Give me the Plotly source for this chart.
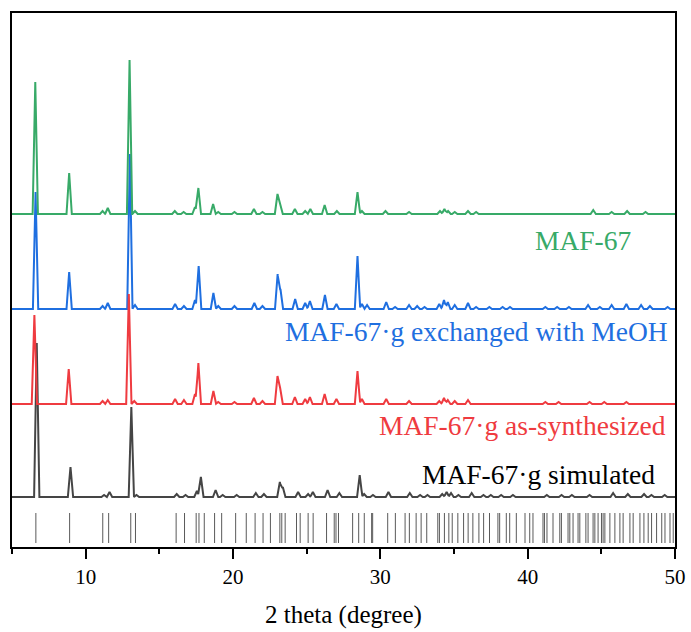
import plotly.graph_objects as go

# ---------------- data ----------------
# Peak positions (2 theta, degree) and heights (arbitrary units) per pattern
green_pos = [6.58, 8.88, 11.15, 11.5, 12.98, 13.35, 16.05, 16.65, 17.42, 17.65, 18.65, 19.0,
             20.1, 21.42, 22.0, 23.02, 23.2, 24.2, 24.9, 25.25, 26.22, 27.05, 28.45, 28.75,
             30.35, 31.95, 34.05, 34.35, 34.6, 35.05, 35.95, 36.5, 44.45, 45.7, 46.75, 48.0]
green_int = [132, 41, 3, 6, 154, 3, 3, 2, 7, 26, 10, 2,
             2, 5, 2, 20, 11, 5, 3, 5, 9, 3, 22, 3,
             3, 2, 3, 5, 3, 2, 3, 2, 4, 2, 3, 2]

blue_pos = [6.6, 8.88, 11.15, 11.5, 13.0, 13.35, 16.07, 16.67, 17.42, 17.67, 18.67, 19.0,
            20.1, 21.45, 22.0, 23.03, 23.22, 24.22, 24.9, 25.22, 26.24, 27.02, 28.45, 28.75,
            29.1, 30.4, 31.0, 31.95, 32.5, 33.0, 34.0, 34.32, 34.58, 35.05, 35.95, 36.5,
            37.4, 38.3, 38.8, 41.2, 42.0, 42.8, 44.1, 44.9, 45.7, 46.7, 47.7, 48.3, 49.5]
blue_int = [117, 37, 3, 6, 155, 4, 5, 3, 9, 43, 16, 3,
            3, 6, 3, 35, 20, 10, 6, 8, 14, 5, 53, 5,
            4, 7, 2, 4, 3, 2, 5, 9, 7, 4, 6, 2,
            2, 2, 2, 2, 2, 2, 4, 2, 4, 5, 4, 3, 2]

red_pos = [6.52, 8.85, 11.15, 11.5, 12.93, 13.3, 16.07, 16.67, 17.42, 17.65, 18.67, 19.0,
           20.1, 21.42, 22.0, 23.02, 23.2, 24.2, 24.9, 25.22, 26.22, 27.02, 28.45, 28.75,
           30.4, 31.95, 34.0, 34.32, 34.58, 35.05, 35.95, 41.2, 42.1, 44.2, 45.2, 46.7]
red_int = [89, 35, 3, 4, 110, 3, 5, 4, 10, 41, 13, 2,
           2, 6, 3, 28, 16, 7, 5, 7, 10, 5, 33, 5,
           5, 3, 3, 6, 4, 3, 4, 2, 2, 2, 2, 2]

sim_pos = [6.68, 8.97, 11.25, 11.62, 13.1, 13.45, 16.18, 16.78, 17.55, 17.82, 18.82, 19.3,
           20.25, 21.55, 22.1, 23.18, 23.38, 24.42, 25.1, 25.42, 26.42, 27.22, 28.6, 28.9,
           29.5, 30.55, 32.0, 32.7, 33.2, 34.2, 34.5, 34.8, 35.3, 36.2, 37.0, 37.5,
           38.2, 39.0, 41.3, 42.3, 43.0, 44.2, 45.8, 46.8, 47.9, 48.4, 49.3]
sim_int = [154, 30, 2, 5, 90, 2, 3, 2, 6, 20, 7, 2,
           2, 4, 3, 15, 10, 5, 3, 5, 7, 4, 22, 3,
           2, 5, 4, 2, 2, 3, 5, 4, 2, 4, 2, 2,
           2, 2, 2, 2, 2, 2, 4, 3, 3, 2, 2]

# Calculated reflection positions (bottom stick pattern)
stick_pos = [6.62, 8.91, 11.16, 11.56, 13.06, 13.38, 16.14, 16.71, 17.50, 17.69, 18.05, 18.75,
             19.23, 20.18, 20.90, 21.50, 22.04, 22.54, 23.18, 23.31, 23.54, 24.31, 24.56, 25.10,
             25.44, 26.35, 26.87, 26.99, 27.16, 28.12, 28.53, 28.91, 29.41, 29.48, 30.50, 31.02,
             31.68, 31.97, 32.43, 32.77, 33.15, 33.90, 34.01, 34.35, 34.65, 34.88, 35.26, 35.65,
             35.96, 36.28, 36.69, 37.01, 37.41, 37.98, 38.10, 38.55, 38.78, 39.23, 39.82, 40.14,
             40.36, 41.04, 41.14, 41.31, 41.72, 42.18, 42.29, 42.74, 42.86, 43.08, 43.42, 43.54,
             43.95, 44.10, 44.44, 44.56, 44.78, 45.01, 45.12, 45.24, 45.58, 45.92, 46.26, 46.48,
             46.94, 47.16, 47.62, 47.89, 48.18, 48.41, 48.75, 49.10, 49.32, 49.66, 49.88]

labels = ["MAF-67·g simulated", "MAF-67·g as-synthesized",
          "MAF-67·g exchanged with MeOH", "MAF-67"]

# ---------------- styling / layout constants ----------------
X_MIN, X_MAX = 5, 50
HW = 0.18               # drawn half-width of a peak at its base
offsets = {"sim": 50, "red": 143, "blue": 238, "green": 333}
colors = {"sim": "#454545", "red": "#ef3b40", "blue": "#1f6fe0", "green": "#38aa68"}
SERIF = "Liberation Serif"


def profile(pos, inten, base):
    """Polyline through baseline points and the listed peak tops."""
    xs = {X_MIN, X_MAX}
    for p in pos:
        xs.update([p - HW, p, p + HW])
    xs = sorted(x for x in xs if X_MIN <= x <= X_MAX)
    ys = []
    for x in xs:
        v = 0.0
        for p, h in zip(pos, inten):
            d = abs(x - p)
            if d < HW:
                v = max(v, h * (1 - d / HW))
        ys.append(base + v)
    return xs, ys


fig = go.Figure()
for key, pos, inten in [("sim", sim_pos, sim_int), ("blue", blue_pos, blue_int),
                        ("red", red_pos, red_int), ("green", green_pos, green_int)]:
    xs, ys = profile(pos, inten, offsets[key])
    fig.add_trace(go.Scatter(x=xs, y=ys, mode="lines",
                             line=dict(color=colors[key], width=2),
                             hoverinfo="skip", showlegend=False))

# stick pattern
sx, sy = [], []
for p in stick_pos:
    sx += [p, p, None]
    sy += [4, 34, None]
fig.add_trace(go.Scatter(x=sx, y=sy, mode="lines",
                         line=dict(color="#5a5a5a", width=1),
                         hoverinfo="skip", showlegend=False))

# labels
ann = [
    dict(text=labels[3], x=43.77, y=307, xanchor="center", color=colors["green"]),
    dict(text=labels[2], x=49.67, y=216, xanchor="right", color=colors["blue"]),
    dict(text=labels[1], x=49.54, y=122, xanchor="right", color=colors["red"]),
    dict(text=labels[0], x=48.79, y=73, xanchor="right", color="#000000"),
]
for a in ann:
    fig.add_annotation(text=a["text"], x=a["x"], y=a["y"], xref="x", yref="y",
                       xanchor=a["xanchor"], yanchor="middle", showarrow=False,
                       font=dict(family=SERIF, size=27.5, color=a["color"]))

fig.add_annotation(text="2 theta (degree)", x=0.5, y=-0.127, xref="paper", yref="paper",
                   xanchor="center", yanchor="middle", showarrow=False,
                   font=dict(family=SERIF, size=25, color="#000000"))

fig.update_layout(
    width=691, height=632,
    margin=dict(l=12, r=16, t=13, b=85, autoexpand=False),
    paper_bgcolor="white", plot_bgcolor="white",
    font=dict(family=SERIF),
    xaxis=dict(range=[X_MIN, X_MAX], tickmode="array", tickvals=[10, 20, 30, 40, 50],
               ticks="outside", ticklen=10, tickwidth=1.5, tickcolor="black",
               minor=dict(tickvals=[5, 15, 25, 35, 45], ticks="outside", ticklen=5,
                          tickwidth=1.5, tickcolor="black"),
               showline=True, linecolor="black", linewidth=1.5, mirror=True,
               showgrid=False, zeroline=False, automargin=False,
               tickfont=dict(family=SERIF, size=21, color="black")),
    yaxis=dict(range=[0, 534], showticklabels=False, ticks="",
               showline=True, linecolor="black", linewidth=1.5, mirror=True,
               showgrid=False, zeroline=False, automargin=False),
)

fig.write_html("out.html", config={"displayModeBar": False},
               post_script="document.body.style.margin='0';document.body.style.overflow='hidden';")
